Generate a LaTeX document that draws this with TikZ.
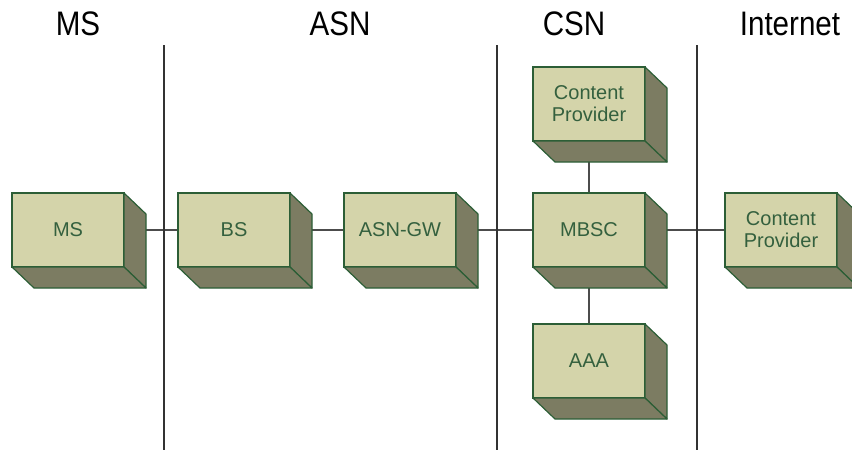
\documentclass[tikz,border=0pt]{standalone}
\usepackage{fontspec}
\setmainfont{Liberation Sans}
\newfontfamily\headfont[FakeStretch=0.87]{Liberation Sans}
\usepackage{tikz}
\usetikzlibrary{%
  positioning,%
  backgrounds,%
  calc%
}
\definecolor{frontgr}{RGB}{212,212,170}
\definecolor{sidegr}{RGB}{124,124,98}
\definecolor{edgegr}{RGB}{44,94,54}
\definecolor{textgr}{RGB}{52,96,62}

\begin{document}
\begin{tikzpicture}[
  x=1pt,y=-1pt,
  line width=1.5pt,
  box/.style={draw=edgegr,fill=frontgr,text=textgr,line width=1.6pt,
    minimum width=112pt,minimum height=74pt,outer sep=0pt,inner sep=0pt,
    align=center,font=\fontsize{20}{22}\selectfont},
  side/.style={draw=edgegr,fill=sidegr,line width=1.2pt,line join=round},
  head/.style={font=\headfont\fontsize{34}{36}\selectfont},
  link/.style={draw=black!70,line width=1.6pt},
]
\useasboundingbox (0,0) rectangle (852,450);

\node[head] (tms) at (78,24) {MS};
\node[head] (tasn) at (340,24) {ASN};
\node[head] (tcsn) at (574,24) {CSN};
\node[head] (tnet) at (790,24) {Internet};

\foreach \x in {164,497,697} {
  \draw[black!80] (\x,45) -- (\x,450);
}

\node[box] (ms1) at (68,230) {MS};
\node[box] (bs1) at (234,230) {BS};
\node[box] (gw1) at (400,230) {ASN-GW};
\node[box] (mbsc1) at (589,230) {MBSC};
\node[box] (cp1) at (589,104) {Content\\Provider};
\node[box] (aaa1) at (589,361) {AAA};
\node[box] (cp2) at (781,230) {Content\\Provider};

\foreach \n in {ms1,bs1,gw1,mbsc1,cp1,aaa1,cp2} {
  \filldraw[side] (\n.north east) -- ([shift={(22,21)}]\n.north east)
    -- ([shift={(22,21)}]\n.south east) -- (\n.south east) -- cycle;
  \filldraw[side] (\n.south west) -- (\n.south east)
    -- ([shift={(22,21)}]\n.south east) -- ([shift={(22,21)}]\n.south west) -- cycle;
}

\begin{pgfonlayer}{background}
\draw[link] (ms1) -- (bs1) -- (gw1) -- (mbsc1) -- (cp2);
\draw[link] (cp1) -- (mbsc1) -- (aaa1);
\end{pgfonlayer}

\end{tikzpicture}
\end{document}
